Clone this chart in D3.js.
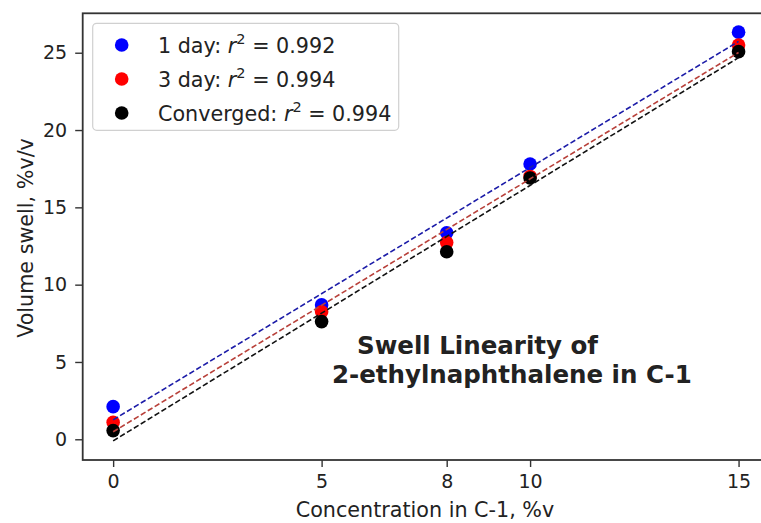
<!doctype html>
<html lang="en">
<head>
<meta charset="utf-8">
<title>swell linearity</title>
<style>
  body { margin: 0; background: #fff; }
  text { font-family: "DejaVu Sans", sans-serif; fill: #222; }
</style>
</head>
<body>
<script src="https://cdn.jsdelivr.net/npm/d3@7"></script>
<script>

// data
var conc = [0, 5, 8, 10, 15];
var day1 = [2.11, 8.69, 13.36, 17.8, 26.33];
var day3 = [1.1, 8.25, 12.72, 17.0, 25.5];
var conv = [0.56, 7.61, 12.13, 16.9, 25.07];
var seriesNames = ["1 day", "3 day", "Converged"];
var r2Values = ["0.992", "0.994", "0.994"];
var xTicks = [0, 5, 8, 10, 15];
var yTicks = [0, 5, 10, 15, 20, 25];

var w = 761, h = 523;
var colors = ["#0000ff", "#ff0000", "#000000"];
var lineColors = ["#1c1ca8", "#b8403a", "#111111"];

var x = d3.scaleLinear().domain([-0.73, 15.73]).range([82.7, 769]);
var y = d3.scaleLinear().domain([-1.34, 27.55]).range([460, 13.3]);

var svg = d3.select("body").append("svg")
    .attr("width", w)
    .attr("height", h);

var all = [day1, day3, conv];

// least squares fit
function linfit(xs, ys) {
  var mx = d3.mean(xs), my = d3.mean(ys);
  var sxy = 0, sxx = 0;
  for (var i = 0; i < xs.length; i++) {
    sxy += (xs[i] - mx) * (ys[i] - my);
    sxx += (xs[i] - mx) * (xs[i] - mx);
  }
  var m = sxy / sxx;
  return { m: m, b: my - m * mx };
}

// points first, dashed fits on top
all.forEach(function(s, k) {
  svg.append("g").selectAll("circle")
    .data(s)
    .enter()
    .append("circle")
    .attr("cx", function(d, i) { return x(conc[i]); })
    .attr("cy", function(d) { return y(d); })
    .attr("r", 6.8)
    .attr("fill", colors[k]);
});

all.forEach(function(s, k) {
  var f = linfit(conc, s);
  var ends = [d3.min(conc), d3.max(conc)];
  svg.append("path")
    .datum(ends)
    .attr("fill", "none")
    .attr("stroke", lineColors[k])
    .attr("stroke-width", 1.6)
    .attr("stroke-dasharray", "5.5,2.6")
    .attr("d", d3.line()
      .x(function(d) { return x(d); })
      .y(function(d) { return y(f.m * d + f.b); }));
});

// axes
var xAxis = svg.append("g")
    .attr("transform", "translate(0,460)")
    .call(d3.axisBottom(x).tickValues(xTicks).tickSize(7).tickPadding(8).tickSizeOuter(0));
var yAxis = svg.append("g")
    .attr("transform", "translate(82.7,0)")
    .call(d3.axisLeft(y).tickValues(yTicks).tickSize(7.5).tickPadding(8).tickSizeOuter(0));

[xAxis, yAxis].forEach(function(a) {
  a.select(".domain").remove();
  a.selectAll(".tick line").attr("stroke", "#333").attr("stroke-width", 1.4);
  a.selectAll(".tick text").attr("font-family", "DejaVu Sans").attr("font-size", 19).attr("fill", "#222");
});

// frame
svg.append("rect")
    .attr("x", 82.7).attr("y", 13.3)
    .attr("width", 769 - 82.7).attr("height", 460 - 13.3)
    .attr("fill", "none")
    .attr("stroke", "#333")
    .attr("stroke-width", 1.8);

// axis labels
svg.append("text")
    .attr("x", 425).attr("y", 517)
    .attr("text-anchor", "middle")
    .attr("font-size", 20.7)
    .text("Concentration in C-1, %v");

svg.append("text")
    .attr("transform", "translate(33,238) rotate(-90)")
    .attr("text-anchor", "middle")
    .attr("font-size", 20.7)
    .text("Volume swell, %v/v");

// annotation
svg.append("text")
    .attr("x", 357).attr("y", 354)
    .attr("font-size", 24.5).attr("font-weight", "bold").attr("fill", "#111")
    .text("Swell Linearity of");
svg.append("text")
    .attr("x", 332).attr("y", 383)
    .attr("font-size", 24.5).attr("font-weight", "bold").attr("fill", "#111")
    .text("2-ethylnaphthalene in C-1");

// legend
var lg = svg.append("g");
lg.append("rect")
    .attr("x", 92.7).attr("y", 23.3)
    .attr("width", 306).attr("height", 107)
    .attr("rx", 4)
    .attr("fill", "#fff").attr("fill-opacity", 0.85)
    .attr("stroke", "#d0d0d0").attr("stroke-width", 1.2);

var rows = [45, 79, 113];
seriesNames.forEach(function(name, k) {
  lg.append("circle")
    .attr("cx", 121.7).attr("cy", rows[k])
    .attr("r", 6.8).attr("fill", colors[k]);
  var t = lg.append("text")
    .attr("x", 158).attr("y", rows[k] + 7.5)
    .attr("font-size", 20.7);
  t.append("tspan").text(name + ": ");
  t.append("tspan").attr("font-style", "italic").text("r");
  t.append("tspan").attr("font-size", 14.5).attr("dy", -8.5).text("2");
  t.append("tspan").attr("dy", 8.5).text(" = " + r2Values[k]);
});

</script>
</body>
</html>
